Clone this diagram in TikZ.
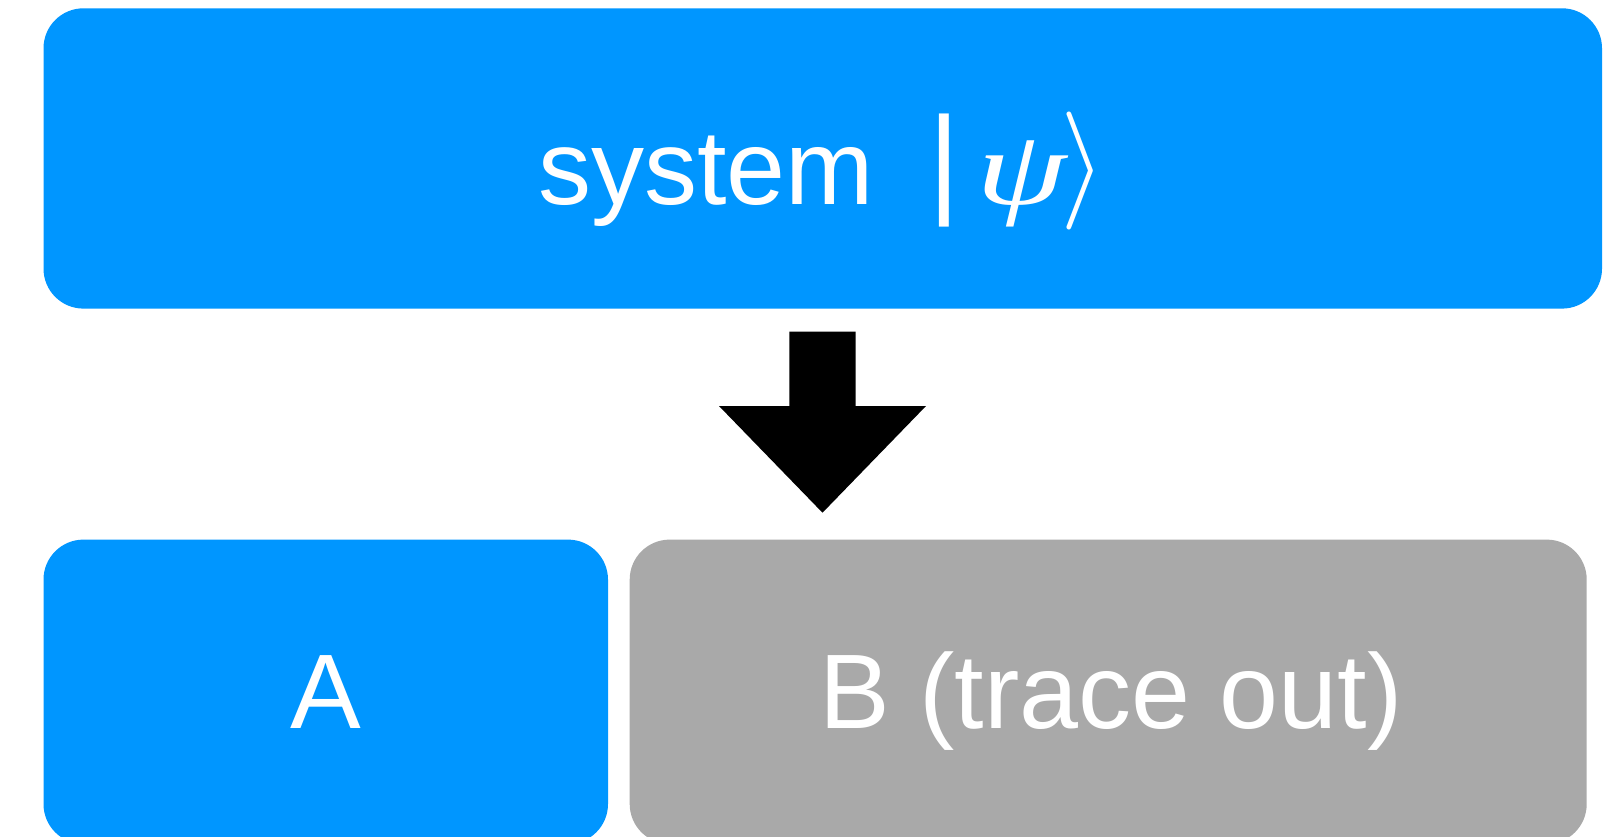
\RequirePackage{fix-cm}
\documentclass[tikz,border=0pt]{standalone}
\usepackage{fontspec}
\setmainfont{Liberation Sans}
\newfontfamily\psifont{Liberation Serif}
\usepackage{graphicx}
\definecolor{sysblue}{RGB}{0,150,255}
\definecolor{tracegray}{RGB}{169,169,169}
\begin{document}
\begin{tikzpicture}[x=1pt,y=-1pt,
  box/.style={rounded corners=40pt,inner sep=0pt,outer sep=0pt},
  lbl/.style={text=white,inner sep=0pt,outer sep=0pt,anchor=base,font=\fontsize{106}{110}\selectfont},
  blockarrow/.style={fill=black}]
\clip (0,0) rectangle (1624,836);
\fill[white] (0,0) rectangle (1624,836);
% boxes
\node[box,fill=sysblue,minimum width=1558.5pt,minimum height=300.3pt] (system) at (822.75,158.45) {};
\node[box,fill=sysblue,minimum width=564.5pt,minimum height=304.4pt] (A) at (325.75,691.8) {};
\node[box,fill=tracegray,minimum width=957pt,minimum height=304.4pt] (B) at (1108.2,691.8) {};
% labels
\node[lbl,anchor=base west] (systxt) at (538,204) {system\hspace{55pt}\raisebox{2.5pt}{\scalebox{1.15}[1.14]{|}}\hspace{16pt}\scalebox{1.37}[1]{\psifont\itshape ψ}\hspace{-6pt}{\fontsize{118}{120}\selectfont\raisebox{3.5pt}{$\rangle$}}};
\node[lbl] (atxt) at (325.7,728) {A};
\node[lbl] (btxt) at (1110.8,728) {B (trace out)};
% block arrow
\fill[blockarrow] (789.3,331.5) -- (855.6,331.5) -- (855.6,406) -- (926,406) -- (822.5,512.7) -- (719,406) -- (789.3,406) -- cycle;
\end{tikzpicture}
\end{document}
